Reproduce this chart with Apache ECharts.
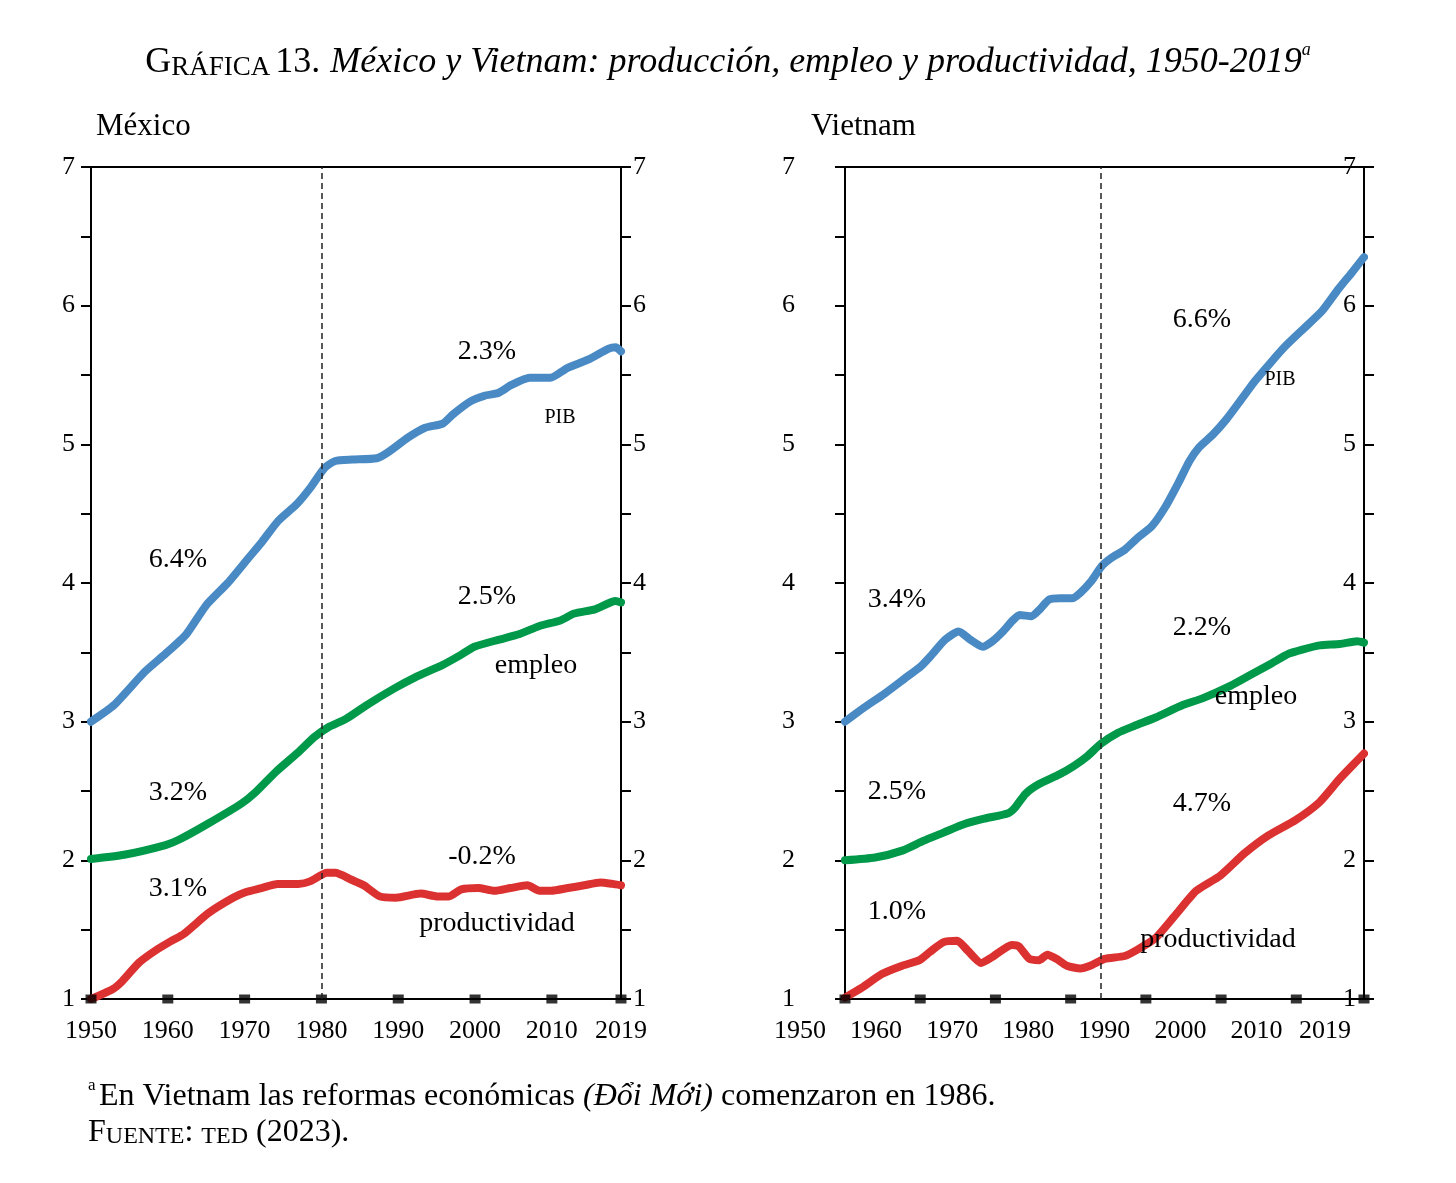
<!DOCTYPE html>
<html>
<head>
<meta charset="utf-8">
<script src="https://cdn.jsdelivr.net/npm/echarts@6/dist/echarts.min.js"></script>
<style>
  html, body { margin: 0; padding: 0; background: #fff; }
  #mybox { width: 1456px; height: 1183px; }
</style>
</head>
<body>
<div id="mybox"></div>
<script>
// datos: [año, valor]
var mxPib = [[1950,3.00],[1953,3.12],[1957,3.36],[1959.7,3.49],[1962.4,3.63],[1965,3.84],[1967.8,4.00],[1970.5,4.18],
  [1972.3,4.30],[1974.4,4.45],[1976.8,4.57],[1978.6,4.69],[1980.4,4.83],[1981.8,4.88],[1984,4.89],[1987.2,4.90],
  [1988.6,4.94],[1991.3,5.05],[1993.5,5.12],[1995.8,5.15],[1997.2,5.22],[1999.4,5.31],[2001.2,5.35],[2003,5.37],
  [2004.8,5.43],[2007.1,5.48],[2009.8,5.48],[2012,5.55],[2014.7,5.61],[2017.4,5.69],[2018.3,5.70],[2019,5.67]];
var mxEmpleo = [[1950,2.01],[1954.3,2.04],[1959.7,2.11],[1961.5,2.15],[1965.1,2.26],[1969.6,2.41],[1971.4,2.49],
  [1974.1,2.64],[1976.8,2.77],[1979.1,2.89],[1980.9,2.96],[1983.2,3.02],[1985.9,3.12],[1989.5,3.24],[1992.2,3.32],
  [1995.8,3.41],[1998.1,3.48],[1999.9,3.54],[2003,3.59],[2005.7,3.63],[2008.4,3.69],[2011.1,3.73],[2012.9,3.78],
  [2015.6,3.81],[2018.3,3.87],[2019,3.86]];
var mxProd = [[1950,1.00],[1952.8,1.07],[1954.1,1.13],[1956.2,1.26],[1958.4,1.35],[1960.5,1.42],[1962.1,1.47],
  [1965.3,1.62],[1968.5,1.73],[1970.1,1.77],[1972.2,1.80],[1974.3,1.83],[1977,1.83],[1978.6,1.85],[1980.7,1.91],
  [1981.8,1.91],[1983.9,1.86],[1985.5,1.82],[1987.6,1.74],[1989.7,1.73],[1992.9,1.76],[1995.1,1.74],[1996.6,1.74],
  [1998.2,1.79],[2000.4,1.80],[2002.5,1.78],[2004.6,1.80],[2006.8,1.82],[2008.4,1.78],[2009.9,1.78],[2012.1,1.80],
  [2014.2,1.82],[2016.3,1.84],[2017.9,1.83],[2019,1.82]];

var vnPib = [[1950,3.00],[1952.5,3.10],[1955.2,3.20],[1957.9,3.31],[1960.1,3.40],[1961.5,3.48],[1963.3,3.59],
  [1965.1,3.65],[1966.7,3.59],[1968.3,3.54],[1969.6,3.58],[1971,3.65],[1972.3,3.73],[1973.2,3.77],[1974.8,3.76],
  [1975.9,3.81],[1977.1,3.88],[1978.6,3.89],[1980.2,3.89],[1981.3,3.93],[1982.7,4.01],[1984.1,4.12],[1985.4,4.18],
  [1987.2,4.24],[1989,4.33],[1990.8,4.41],[1992.6,4.55],[1994.4,4.73],[1995.8,4.88],[1997.1,4.98],[1998.9,5.07],
  [2000.7,5.18],[2002.5,5.31],[2004.4,5.45],[2006.6,5.59],[2008.4,5.70],[2010.7,5.82],[2013.4,5.96],[2015.6,6.12],
  [2017.4,6.24],[2019,6.35]];
var vnEmpleo = [[1950,2.00],[1954,2.02],[1957.6,2.07],[1960.4,2.14],[1963.1,2.20],[1965.8,2.26],[1968.5,2.30],
  [1971.7,2.34],[1972.6,2.38],[1974,2.48],[1975.8,2.55],[1978.5,2.62],[1980.4,2.68],[1982.2,2.75],[1984,2.84],
  [1986.3,2.92],[1988.5,2.97],[1991.3,3.03],[1994.9,3.12],[1997.6,3.17],[2001.3,3.26],[2004,3.34],[2006.7,3.42],
  [2009,3.49],[2010.8,3.52],[2013.1,3.55],[2015.8,3.56],[2018.1,3.58],[2019,3.57]];
var vnProd = [[1950,1.01],[1952.2,1.08],[1954.9,1.18],[1957.6,1.24],[1959.9,1.28],[1961.3,1.34],[1963.1,1.41],
  [1964.9,1.42],[1966.3,1.35],[1968.1,1.26],[1969.5,1.30],[1972.2,1.39],[1973.1,1.38],[1974.5,1.29],[1975.8,1.28],
  [1976.9,1.32],[1978.1,1.29],[1979.5,1.24],[1981.3,1.22],[1982.6,1.24],[1984.5,1.29],[1987.2,1.31],[1989,1.36],
  [1991.3,1.44],[1994,1.61],[1996.7,1.78],[1999.9,1.89],[2003.1,2.05],[2006.3,2.18],[2009.9,2.29],[2013.1,2.42],
  [2015.8,2.59],[2019,2.77]];

// marcas del eje x y lineas de corte
var xTicks = [1950, 1960, 1970, 1980, 1990, 2000, 2010, 2019];
var mxCorte = 1980;
var vnCorte = 1984;

var serif = "'Liberation Serif', 'DejaVu Serif', serif";
var azul = '#4a8ac4', verde = '#00994a', rojo = '#dc3131';

var mycharts = echarts.init(document.getElementById('mybox'));

function yEje(grid, pos, margin, inside) {
    return {
        type: 'value', gridIndex: grid, position: pos, min: 1, max: 7, interval: 0.5,
        axisLine: { show: true, lineStyle: { color: '#000', width: 2 } },
        axisTick: { show: true, inside: false, length: 10, lineStyle: { color: '#000', width: 2 } },
        axisLabel: {
            inside: !!inside, margin: margin, color: '#000', fontFamily: serif, fontSize: 26,
            formatter: function (v) { return Number.isInteger(v) ? String(v) : ''; }
        },
        splitLine: { show: false }
    };
}

var xLabel = {
    show: true, customValues: xTicks, margin: 19, color: '#000', fontFamily: serif, fontSize: 26,
    formatter: function (v) { return String(v); }
};

function xEje(grid, pos, labels) {
    return {
        type: 'value', gridIndex: grid, position: pos, min: 1950, max: 2019,
        axisLine: { show: true, lineStyle: { color: '#000', width: 2 } },
        axisTick: { show: false },
        axisLabel: labels ? xLabel : { show: false },
        splitLine: { show: false }
    };
}

function linea(data, color, xi, yi, corte) {
    var s = {
        type: 'line', data: data, xAxisIndex: xi, yAxisIndex: yi,
        showSymbol: false, smooth: 0.2, z: 3,
        lineStyle: { color: color, width: 8, cap: 'round', join: 'round' }
    };
    if (corte) {
        s.markLine = {
            silent: true, symbol: ['none', 'none'], label: { show: false },
            lineStyle: { color: '#222', width: 1.5, type: [6, 4] },
            data: [{ xAxis: corte }]
        };
    }
    return s;
}

function cuadros(xi, yi) {
    return {
        type: 'scatter', xAxisIndex: xi, yAxisIndex: yi, clip: false, z: 4,
        symbol: 'rect', symbolSize: [11, 9], itemStyle: { color: '#000' },
        data: xTicks.map(function (t) { return [t, 1]; })
    };
}

function txt(x, y, s, size) {
    return {
        type: 'text', x: x, y: y, z: 10,
        style: { text: s, fill: '#000', font: (size || 28) + 'px ' + serif, align: 'center', verticalAlign: 'middle' }
    };
}

function tr(size, extra) {
    var o = { fontFamily: serif, fontSize: size, fontWeight: 'normal', color: '#000', verticalAlign: 'bottom', lineHeight: 40 };
    for (var k in extra) o[k] = extra[k];
    return o;
}

var optionObj = {
    animation: false,
    backgroundColor: '#fff',
    title: {
        left: 'center', top: 36,
        text: '{g|G}{sc|RÁFICA} {n|13.}  {it|México y Vietnam: producción, empleo y productividad, 1950-2019}{sup|a}',
        textStyle: {
            fontWeight: 'normal',
            rich: {
                g: tr(36),
                sc: tr(27, { lineHeight: 38 }),
                n: tr(36),
                it: tr(36, { fontStyle: 'italic' }),
                sup: tr(18, { fontStyle: 'italic', verticalAlign: 'top' })
            }
        }
    },
    grid: [
        { left: 91, top: 167, width: 530, height: 832 },
        { left: 845, top: 167, width: 519, height: 832 },
        { left: 800, top: 167, width: 525, height: 832 }
    ],
    xAxis: [
        xEje(0, 'bottom', true),
        xEje(0, 'top', false),
        xEje(1, 'bottom', false),
        xEje(1, 'top', false),
        { type: 'value', gridIndex: 2, position: 'bottom', min: 1950, max: 2019,
          axisLine: { show: false }, axisTick: { show: false }, splitLine: { show: false },
          axisLabel: xLabel }
    ],
    yAxis: [
        yEje(0, 'left', 16),
        yEje(0, 'right', 12),
        yEje(1, 'left', 50),
        yEje(1, 'right', 8, true),
        { type: 'value', gridIndex: 2, show: false, min: 1, max: 7 }
    ],
    series: [
        linea(mxPib, azul, 0, 0, mxCorte),
        linea(mxEmpleo, verde, 0, 0),
        linea(mxProd, rojo, 0, 0),
        cuadros(0, 0),
        linea(vnPib, azul, 2, 2, vnCorte),
        linea(vnEmpleo, verde, 2, 2),
        linea(vnProd, rojo, 2, 2),
        cuadros(2, 2)
    ],
    graphic: [
        { type: 'text', left: 96, top: 111, style: { text: 'México', fill: '#000', font: '31px ' + serif } },
        { type: 'text', left: 811, top: 111, style: { text: 'Vietnam', fill: '#000', font: '31px ' + serif } },
        // Mexico
        txt(178, 560, '6.4%'), txt(178, 793, '3.2%'), txt(178, 889, '3.1%'),
        txt(487, 352, '2.3%'), txt(560, 418, 'PIB', 20), txt(487, 597, '2.5%'),
        txt(536, 666, 'empleo'), txt(482, 857, '-0.2%'), txt(497, 924, 'productividad'),
        // Vietnam
        txt(1202, 320, '6.6%'), txt(1280, 380, 'PIB', 20), txt(897, 600, '3.4%'),
        txt(1202, 628, '2.2%'), txt(1256, 697, 'empleo'), txt(897, 792, '2.5%'),
        txt(1202, 804, '4.7%'), txt(897, 912, '1.0%'), txt(1218, 940, 'productividad'),
        // notas
        {
            type: 'text', left: 88, top: 1077,
            style: {
                text: '{s|a} {r|En Vietnam las reformas económicas }{i|(Đổi Mới)}{r| comenzaron en 1986.}\n{r|F}{sc|UENTE}{r|: }{sc|TED}{r| (2023).}',
                fill: '#000',
                rich: {
                    s: { font: '17px ' + serif, verticalAlign: 'top', lineHeight: 36 },
                    r: { font: '32px ' + serif, verticalAlign: 'bottom', lineHeight: 36 },
                    i: { font: 'italic 32px ' + serif, verticalAlign: 'bottom', lineHeight: 36 },
                    sc: { font: '24px ' + serif, verticalAlign: 'bottom', lineHeight: 34 }
                }
            }
        }
    ]
};

mycharts.setOption(optionObj);
</script>
</body>
</html>
